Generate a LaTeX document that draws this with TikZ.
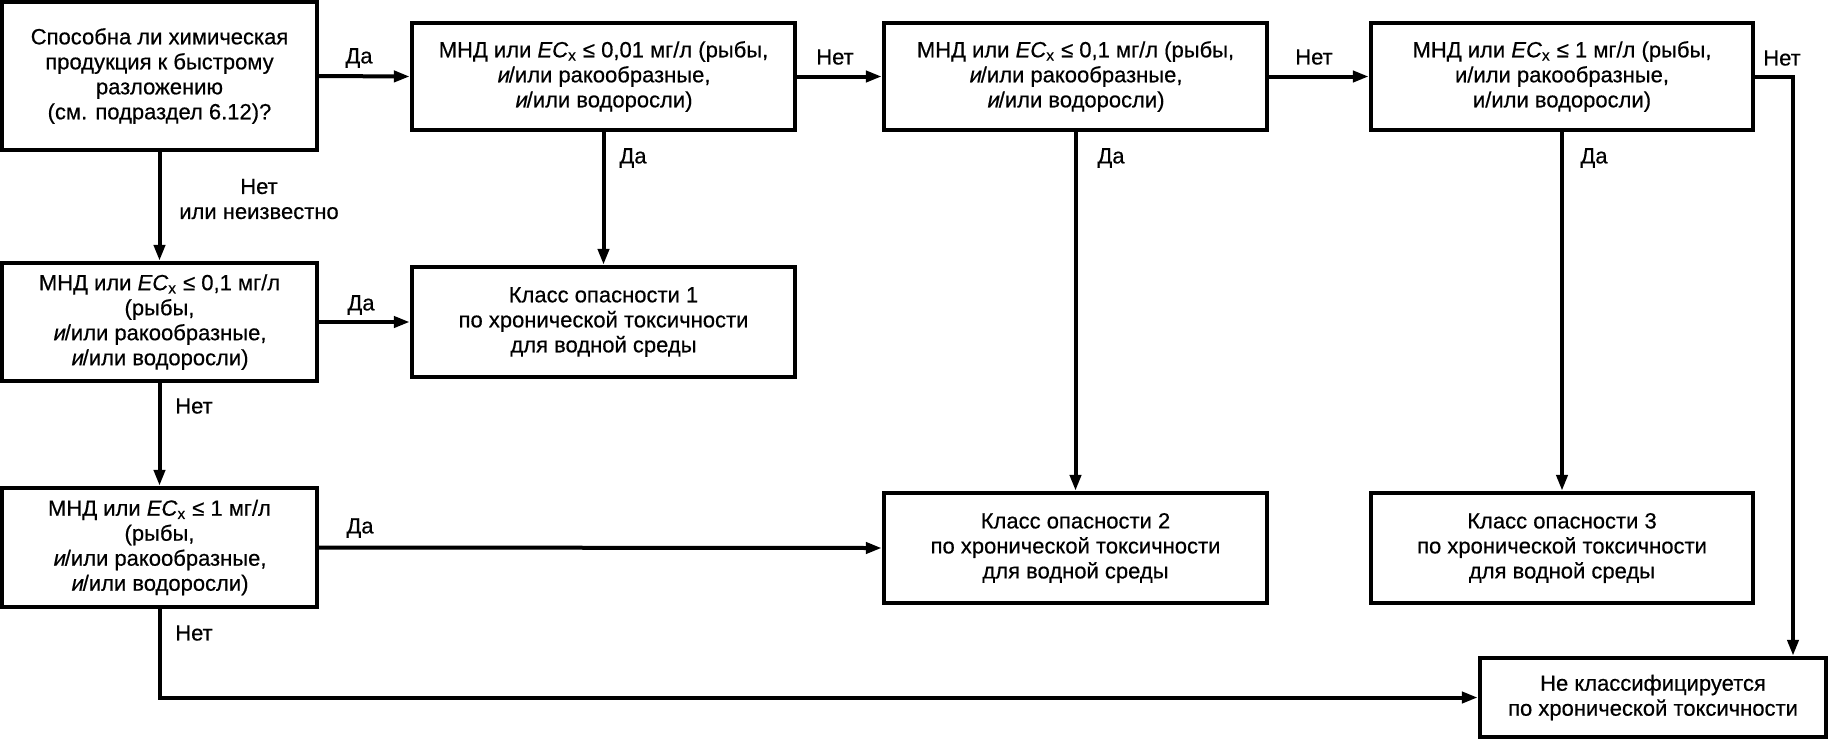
\documentclass[tikz,border=0pt]{standalone}
\usepackage{fontspec}
\setmainfont{Liberation Sans}[FakeBold=0.5]
\newfontfamily\slantfont{Liberation Sans}[FakeSlant=0.2,FakeBold=0.5]
\usetikzlibrary{arrows.meta}
\newcommand{\ecx}{\textit{EC}\textsubscript{x}}
\newcommand{\si}{{\slantfont и}}
\begin{document}
\begin{tikzpicture}[x=0.5pt,y=-0.5pt,
  box/.style={draw, line width=2.2pt, inner sep=0pt, align=center, font=\fontsize{11}{12.5}\selectfont},
  lbl/.style={inner sep=0pt, align=center, font=\fontsize{11}{12.5}\selectfont},
  arr/.style={line width=2pt, -{Triangle[length=8pt,width=5.5pt]}},
  ln/.style={line width=2pt, line join=miter}]
\useasboundingbox (0,0) rectangle (1830,741);
% boxes
\node[box, minimum width=157.5pt, minimum height=74pt] (A) at (159.5,76)
  {Способна ли химическая\\продукция к быстрому\\разложению\\(см. подраздел 6.12)?};
\node[box, minimum width=191.5pt, minimum height=53.5pt] (B) at (603.5,76.5)
  {МНД или \ecx{} ≤ 0,01 мг/л (рыбы,\\\si/или ракообразные,\\\si/или водоросли)};
\node[box, minimum width=191.5pt, minimum height=53.5pt] (C) at (1075.5,76.5)
  {МНД или \ecx{} ≤ 0,1 мг/л (рыбы,\\\si/или ракообразные,\\\si/или водоросли)};
\node[box, minimum width=191pt, minimum height=53.5pt] (D) at (1562,76.5)
  {МНД или \ecx{} ≤ 1 мг/л (рыбы,\\и/или ракообразные,\\и/или водоросли)};
\node[box, minimum width=157.5pt, minimum height=59pt] (E) at (159.5,322)
  {МНД или \ecx{} ≤ 0,1 мг/л\\(рыбы,\\\si/или ракообразные,\\\si/или водоросли)};
\node[box, minimum width=191.5pt, minimum height=55pt] (F) at (603.5,322)
  {Класс опасности 1\\по хронической токсичности\\для водной среды};
\node[box, minimum width=157.5pt, minimum height=59.5pt] (G) at (159.5,547.5)
  {МНД или \ecx{} ≤ 1 мг/л\\(рыбы,\\\si/или ракообразные,\\\si/или водоросли)};
\node[box, minimum width=191.5pt, minimum height=55pt] (H) at (1075.5,548)
  {Класс опасности 2\\по хронической токсичности\\для водной среды};
\node[box, minimum width=191pt, minimum height=55pt] (I) at (1562,548)
  {Класс опасности 3\\по хронической токсичности\\для водной среды};
\node[box, minimum width=173pt, minimum height=39.5pt] (J) at (1653,697.5)
  {Не классифицируется\\по хронической токсичности};
% connectors
\draw[arr] (A.east) -- (B.west);
\draw[arr] (B.east) -- (C.west);
\draw[arr] (C.east) -- (D.west);
\coordinate (dc) at (1793,76.5);
\draw[arr, line join=miter] (D.east) -- (dc) -- (dc |- J.north);
\draw[arr] (A.south) -- (E.north);
\draw[arr] (E.south) -- (G.north);
\draw[arr] (E.east) -- (F.west);
\draw[arr] (G.east) -- (H.west);
\draw[arr, line join=miter] (G.south) |- (J.west);
\draw[arr] (B.south) -- (F.north);
\draw[arr] (C.south) -- (H.north);
\draw[arr] (D.south) -- (I.north);
% labels
\node[lbl] (l1) at (359,58) {Да};
\node[lbl] (l2) at (835,57) {Нет};
\node[lbl] (l3) at (1314,57) {Нет};
\node[lbl] (l4) at (1782,58) {Нет};
\node[lbl] (l5) at (633,158) {Да};
\node[lbl] (l6) at (1111,158) {Да};
\node[lbl] (l7) at (1594,158) {Да};
\node[lbl] (l8) at (259,199) {Нет\\или неизвестно};
\node[lbl] (l9) at (361,305) {Да};
\node[lbl] (l10) at (194,406) {Нет};
\node[lbl] (l11) at (360,528) {Да};
\node[lbl] (l12) at (194,633) {Нет};
\end{tikzpicture}
\end{document}
